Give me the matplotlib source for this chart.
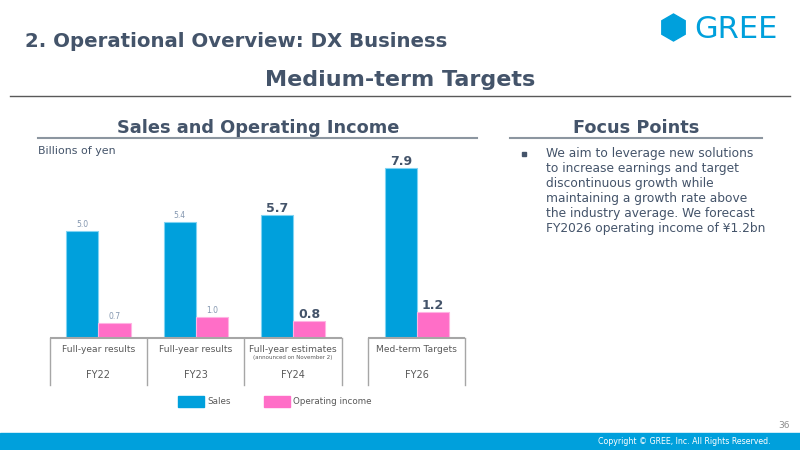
import matplotlib
matplotlib.use("Agg")
import matplotlib.pyplot as plt
from matplotlib.patches import Rectangle, RegularPolygon
from matplotlib.lines import Line2D

# ---- data ----
categories = ["FY22", "FY23", "FY24", "FY26"]
sublabels = ["Full-year results", "Full-year results", "Full-year estimates", "Med-term Targets"]
notes = ["", "", "(announced on November 2)", ""]
sales = [5.0, 5.4, 5.7, 7.9]
op_income = [0.7, 1.0, 0.8, 1.2]
emphasis = [False, False, True, True]
series_names = ["Sales", "Operating income"]
focus_lines = [
    "We aim to leverage new solutions",
    "to increase earnings and target",
    "discontinuous growth while",
    "maintaining a growth rate above",
    "the industry average. We forecast",
    "FY2026 operating income of \u00a51.2bn",
]

# ---- layout ----
W, H = 800, 450
x_pos = [0, 1, 2, 3.27]
BLUE = "#00A0DC"
PINK = "#FF6EC7"
DARK = "#44546A"
GRAY = "#8497B0"
LINE = "#A6A6A6"

fig = plt.figure(figsize=(8, 4.5), dpi=100)
fig.patch.set_facecolor("white")

def fx(x):
    return x / W

def fy(y):
    return 1 - y / H

# Header
fig.text(fx(25), fy(41.5), "2. Operational Overview: DX Business", fontsize=14.2,
         fontweight="bold", color=DARK, va="center", ha="left", family="DejaVu Sans")
fig.text(fx(400), fy(80), "Medium-term Targets", fontsize=16.0, fontweight="bold",
         color=DARK, va="center", ha="center", family="DejaVu Sans")
fig.add_artist(Line2D([fx(10), fx(790)], [fy(95.5), fy(95.5)], color="#595959", lw=1.0))

# Logo
hexagon = RegularPolygon((673.5, H - 27.5), numVertices=6, radius=13.5,
                         orientation=0, transform=None, color=BLUE)
fig.add_artist(hexagon)
fig.text(fx(736), fy(29.5), "GREE", fontsize=22, color=BLUE, va="center", ha="center",
         family="DejaVu Sans")

# Section headings
fig.text(fx(258), fy(128), "Sales and Operating Income", fontsize=12.8, fontweight="bold",
         color=DARK, va="center", ha="center")
fig.add_artist(Line2D([fx(38), fx(477)], [fy(137.5), fy(137.5)], color="#8C96A0", lw=1.5))
fig.text(fx(636), fy(128), "Focus Points", fontsize=12.8, fontweight="bold",
         color=DARK, va="center", ha="center")
fig.add_artist(Line2D([fx(510), fx(762)], [fy(137.5), fy(137.5)], color="#8C96A0", lw=1.5))

fig.text(fx(38), fy(151), "Billions of yen", fontsize=7.9, color=DARK, va="center", ha="left")

# Focus text
fig.add_artist(Rectangle((fx(522), fy(156)), 4 / W, 4 / H, transform=fig.transFigure,
                         color=DARK))
for i, line in enumerate(focus_lines):
    fig.text(fx(546.5), fy(154 + i * 14.8), line, fontsize=8.8, color=DARK,
             va="center", ha="left")

# ---- chart ----
base_px = 338
top_px = 160
px_per_unit = 21.5
ax = fig.add_axes([fx(49.7), fy(base_px), (465 - 49.7) / W, (base_px - top_px) / H])
ymax = (base_px - top_px) / px_per_unit
ax.set_xlim(-0.5, (465 - 98.3) / 97.4)
ax.set_ylim(0, ymax)
ax.axis("off")

unit = 1 / px_per_unit
bw = 0.33
xs_sales = [x - bw / 2 for x in x_pos]
xs_op = [x + bw / 2 for x in x_pos]
ax.bar(xs_sales, sales, bw, color=BLUE, edgecolor="#7FD3F2", linewidth=0.8)
ax.bar(xs_op, op_income, bw, color=PINK, edgecolor="#FFB3E3", linewidth=0.8)

for xs, vals in ((xs_sales, sales), (xs_op, op_income)):
    for x, v, emph in zip(xs, vals, emphasis):
        if emph:
            ax.text(x, v + 6.5 * unit, f"{v:.1f}", ha="center", va="center", fontsize=9,
                    fontweight="bold", color=DARK)
        else:
            ax.text(x, v + 6 * unit, f"{v:.1f}", ha="center", va="center", fontsize=5.5,
                    color=GRAY)

# category boxes
box_bottom = -47 * unit
fy26_left = (367.7 - 98.3) / 97.4
fy26_right = (465 - 98.3) / 97.4
groups = [(-0.5, 2.5, [-0.5, 0.5, 1.5, 2.5]), (fy26_left, fy26_right, [fy26_left, fy26_right])]
for left, right, verts in groups:
    ax.plot([left, right], [0, 0], color=LINE, lw=1.5, clip_on=False, solid_capstyle="butt")
    for v in verts:
        ax.plot([v, v], [0, box_bottom], color=LINE, lw=1.0, clip_on=False)

for x, cat, sub, note in zip(x_pos, categories, sublabels, notes):
    ax.text(x, -11 * unit, sub, ha="center", va="center", fontsize=6.6, color="#595959")
    if note:
        ax.text(x, -19.5 * unit, note, ha="center", va="center", fontsize=4.0, color="#595959")
    ax.text(x, -37 * unit, cat, ha="center", va="center", fontsize=7, color="#595959")

# legend
for (x0, name, col) in ((178, series_names[0], BLUE), (264, series_names[1], PINK)):
    fig.add_artist(Rectangle((fx(x0), fy(407)), 26 / W, 11 / H, transform=fig.transFigure,
                             color=col))
    fig.text(fx(x0 + 29), fy(401.5), name, fontsize=6.3, color="#595959", va="center", ha="left")

# footer
fig.text(fx(790), fy(425), "36", fontsize=6.5, color="#8C8C8C", va="center", ha="right")
fig.add_artist(Rectangle((0, 0), 1, 17 / H, transform=fig.transFigure, color=BLUE))
fig.text(fx(770.5), fy(441.5), "Copyright \u00a9 GREE, Inc. All Rights Reserved.", fontsize=5.7,
         color="white", va="center", ha="right")

fig.savefig("out.png", dpi=100, facecolor="white")
